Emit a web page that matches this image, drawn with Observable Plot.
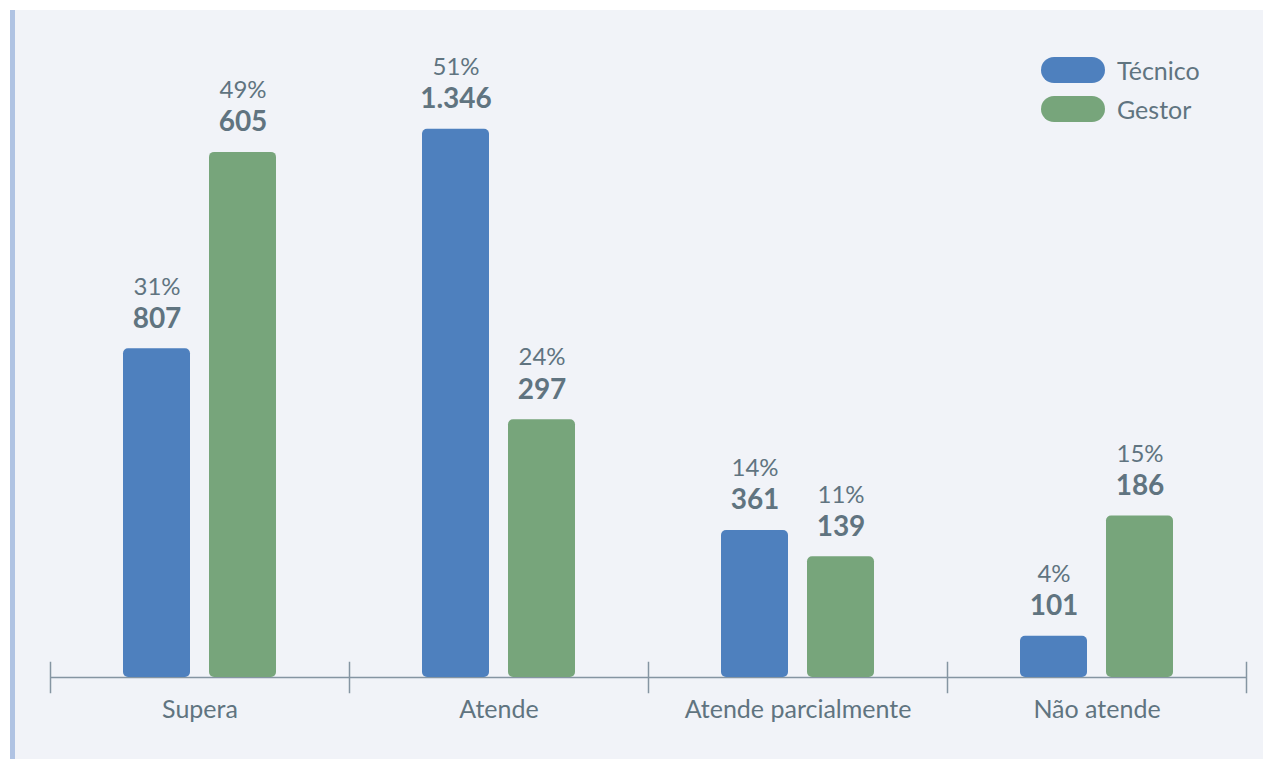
<!DOCTYPE html>
<html>
<head>
<meta charset="utf-8">
<script src="https://cdn.jsdelivr.net/npm/d3@7"></script>
<script src="https://cdn.jsdelivr.net/npm/@observablehq/plot@0.6"></script>
<style>
  body { margin: 0; background: #ffffff; font-family: Lato, "Open Sans", sans-serif; }
  #panel { position: absolute; left: 10px; top: 10px; width: 1248px; height: 749px; background: #f1f3f8; border-left: 5px solid #b0c3e3; }
  #chart { position: absolute; left: 0; top: 0; }
  #legend { position: absolute; left: 1041px; top: 57px; font-size: 25px; color: #607480; }
  .item { display: flex; align-items: center; height: 26px; margin-bottom: 13px; }
  .sw { width: 64px; height: 26px; border-radius: 13px; margin-right: 12px; }
</style>
</head>
<body>
<div id="panel"></div>
<div id="chart"></div>
<div id="legend"></div>
<script>
const categorias = ["Supera", "Atende", "Atende parcialmente", "Não atende"];
const series = ["Técnico", "Gestor"];
const tecnico = [807, 1346, 361, 101];
const gestor = [605, 297, 139, 186];
const pctTecnico = ["31%", "51%", "14%", "4%"];
const pctGestor = ["49%", "24%", "11%", "15%"];
const cores = ["#4e80be", "#77a57b"];
const textColor = "#607480";
const axisColor = "#8595a2";

const fmt = d3.formatLocale({decimal: ",", thousands: ".", grouping: [3], currency: ["R$", ""]}).format(",d");

const totT = d3.sum(tecnico), totG = d3.sum(gestor);
const data = [];
categorias.forEach((c, i) => {
  data.push({cat: c, serie: "Técnico", count: tecnico[i], share: tecnico[i] / totT * 100, pct: pctTecnico[i]});
  data.push({cat: c, serie: "Gestor", count: gestor[i], share: gestor[i] / totG * 100, pct: pctGestor[i]});
});

const chart = Plot.plot({
  width: 1263,
  height: 759,
  marginLeft: 48,
  marginRight: 16,
  marginTop: 38,
  marginBottom: 82,
  style: {background: "transparent", fontFamily: "Lato, sans-serif", fontSize: "25px", color: textColor},
  fx: {domain: categorias, padding: 0, label: null, tickSize: 0, tickPadding: 23, axis: "bottom"},
  x: {domain: series, paddingInner: 0.219, paddingOuter: 0.839, axis: null},
  y: {domain: [0, 60], axis: null},
  color: {domain: series, range: cores},
  marks: [
    Plot.ruleY([0], {stroke: axisColor, strokeWidth: 1.5}),
    Plot.frame({anchor: "left", stroke: axisColor, strokeWidth: 1.5, insetTop: 624, insetBottom: -15}),
    Plot.frame({anchor: "right", stroke: axisColor, strokeWidth: 1.5, insetTop: 624, insetBottom: -15, fx: () => "Não atende"}),
    Plot.barY(data, {fx: "cat", x: "serie", y: "share", fill: "serie", rx: 5}),
    Plot.text(data, {fx: "cat", x: "serie", y: "share", text: d => fmt(d.count), dy: -30, fontSize: 28, fontWeight: 700, fill: textColor}),
    Plot.text(data, {fx: "cat", x: "serie", y: "share", text: "pct", dy: -62, fontSize: 24, fill: textColor})
  ]
});
document.getElementById("chart").appendChild(chart);

const legend = document.getElementById("legend");
series.forEach((s, i) => {
  const item = document.createElement("div");
  item.className = "item";
  item.innerHTML = `<div class="sw" style="background:${cores[i]}"></div><span>${s}</span>`;
  legend.appendChild(item);
});
</script>
</body>
</html>
